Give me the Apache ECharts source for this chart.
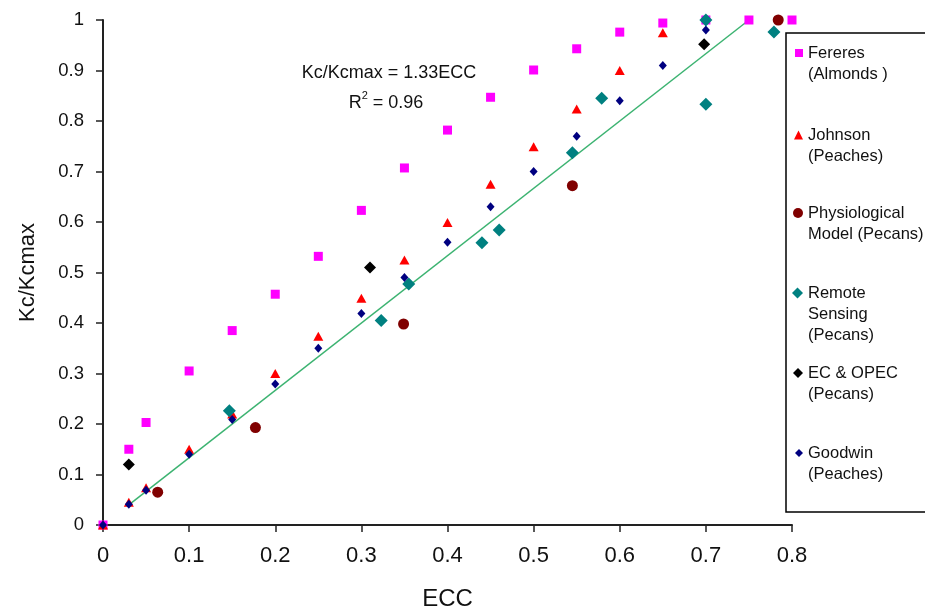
<!DOCTYPE html>
<html><head><meta charset="utf-8">
<script src="https://cdn.jsdelivr.net/npm/echarts@6/dist/echarts.min.js"></script>
<style>html,body{margin:0;padding:0;background:#fff}#c{width:925px;height:613px}</style>
</head><body><div id="c"></div>
<script>
// ---- data ----
const fereresX = [0, 0.03, 0.05, 0.10, 0.15, 0.20, 0.25, 0.30, 0.35, 0.40, 0.45, 0.50, 0.55, 0.60, 0.65, 0.70, 0.75, 0.80];
const fereresY = [0, 0.150, 0.203, 0.305, 0.385, 0.457, 0.532, 0.623, 0.707, 0.782, 0.847, 0.901, 0.943, 0.976, 0.994, 1.0, 1.0, 1.0];
const johnsonX = [0, 0.03, 0.05, 0.10, 0.15, 0.20, 0.25, 0.30, 0.35, 0.40, 0.45, 0.50, 0.55, 0.60, 0.65];
const johnsonY = [0, 0.045, 0.074, 0.150, 0.220, 0.300, 0.374, 0.449, 0.525, 0.599, 0.675, 0.749, 0.824, 0.900, 0.975];
const physioX = [0.0635, 0.177, 0.349, 0.545, 0.784];
const physioY = [0.065, 0.193, 0.398, 0.672, 1.0];
const remoteX = [0.1467, 0.323, 0.355, 0.440, 0.460, 0.545, 0.579, 0.700, 0.700, 0.779];
const remoteY = [0.226, 0.405, 0.477, 0.559, 0.584, 0.737, 0.845, 1.0, 0.833, 0.976];
const ecX = [0.030, 0.310, 0.698];
const ecY = [0.120, 0.510, 0.952];
const goodwinX = [0, 0.03, 0.05, 0.10, 0.15, 0.20, 0.25, 0.30, 0.35, 0.40, 0.45, 0.50, 0.55, 0.60, 0.65, 0.70];
const goodwinY = [0, 0.041, 0.069, 0.140, 0.209, 0.279, 0.350, 0.419, 0.490, 0.560, 0.630, 0.700, 0.770, 0.840, 0.910, 0.980];
const trendX = [0.03, 0.75];
const trendY = [0.04, 1.0];
const legendNames = ['Fereres\n(Almonds )', 'Johnson\n(Peaches)', 'Physiological\nModel (Pecans)', 'Remote\nSensing\n(Pecans)', 'EC & OPEC\n(Pecans)', 'Goodwin\n(Peaches)'];
const xTicks = [0, 0.1, 0.2, 0.3, 0.4, 0.5, 0.6, 0.7, 0.8];
const yTicks = [0, 0.1, 0.2, 0.3, 0.4, 0.5, 0.6, 0.7, 0.8, 0.9, 1];
const equationText = 'Kc/Kcmax = 1.33ECC';
const r2Text = '0.96';

// ---- build ----
const zip = (xs, ys) => xs.map((x, i) => [x, ys[i]]);
const FONT = '"Liberation Sans", Arial, sans-serif';
const chart = echarts.init(document.getElementById('c'), null, {renderer: 'canvas'});

const seriesDefs = [
  {name: legendNames[0], data: zip(fereresX, fereresY), symbol: 'rect', size: 9, color: '#ff00ff'},
  {name: legendNames[1], data: zip(johnsonX, johnsonY), symbol: 'triangle', size: [10, 9], color: '#ff0000'},
  {name: legendNames[2], data: zip(physioX, physioY), symbol: 'circle', size: 11, color: '#800000'},
  {name: legendNames[3], data: zip(remoteX, remoteY), symbol: 'diamond', size: 13, color: '#008080'},
  {name: legendNames[4], data: zip(ecX, ecY), symbol: 'diamond', size: 12, color: '#000000'},
  {name: legendNames[5], data: zip(goodwinX, goodwinY), symbol: 'diamond', size: [8, 9], color: '#000080'}
];

const series = [{
  name: 'trend', type: 'line', data: zip(trendX, trendY), symbol: 'none',
  lineStyle: {color: '#3cb371', width: 1.5}, z: 1, silent: true
}].concat(seriesDefs.map((s, i) => ({
  name: s.name, type: 'scatter', data: s.data, symbol: s.symbol, symbolSize: s.size,
  itemStyle: {color: s.color, opacity: 1}, z: 2 + i
})));

const L = 21;
const legendIconY = [53, 135, 213, 293, 373, 453];
const legendIconSize = [8, 9, 10, 11, 10, 8];
const legends = legendNames.map((n, i) => {
  const lines = n.split('\n').length;
  const blank = lines - 1;           // prepend blank lines so the icon sits on the first real line
  const total = lines + blank;
  const H = total * L;
  const w = legendIconSize[i];
  return {
    data: [n], orient: 'vertical', left: 803 - w, top: legendIconY[i] - H / 2,
    padding: 0, itemWidth: w, itemHeight: w, selectedMode: false,
    formatter: name => ' \n'.repeat(blank) + name,
    textStyle: {fontFamily: FONT, fontSize: 16.5, color: '#111', lineHeight: L}
  };
});

const option = {
  animation: false,
  backgroundColor: '#fff',
  grid: {left: 103, right: 133, top: 20, bottom: 88, containLabel: false, outerBoundsMode: 'none'},
  xAxis: {
    type: 'value', min: 0, max: 0.8, interval: 0.1,
    name: 'ECC', nameLocation: 'middle', nameGap: 62,
    nameTextStyle: {fontFamily: FONT, fontSize: 24, color: '#111'},
    axisLine: {show: true, lineStyle: {color: '#222', width: 2}},
    axisTick: {show: true, inside: false, length: 7, lineStyle: {color: '#222', width: 1.5}},
    axisLabel: {fontFamily: FONT, fontSize: 22, color: '#111', margin: 20,
      formatter: v => { const t = xTicks.find(k => Math.abs(k - v) < 1e-9); return t === undefined ? '' : String(t); }},
    splitLine: {show: false}
  },
  yAxis: {
    type: 'value', min: 0, max: 1, interval: 0.1,
    name: 'Kc/Kcmax', nameLocation: 'middle', nameGap: 64,
    nameTextStyle: {fontFamily: FONT, fontSize: 22, color: '#111'},
    axisLine: {show: true, lineStyle: {color: '#222', width: 2}},
    axisTick: {show: true, inside: false, length: 7, lineStyle: {color: '#222', width: 1.5}},
    axisLabel: {fontFamily: FONT, fontSize: 18.5, color: '#111', margin: 19,
      formatter: v => { const t = yTicks.find(k => Math.abs(k - v) < 1e-9); return t === undefined ? '' : String(t); }},
    splitLine: {show: false}
  },
  legend: legends,
  graphic: [
    {type: 'rect', shape: {x: 786, y: 33, width: 160, height: 479}, style: {fill: 'none', stroke: '#000', lineWidth: 1.5}, z: 0, silent: true},
    {type: 'text', x: 389, y: 73, style: {text: equationText, fontFamily: FONT, fontSize: 18, fill: '#111', align: 'center', verticalAlign: 'middle'}, silent: true},
    {type: 'text', x: 386, y: 101, style: {text: '{r|R}{s|2}{r| = ' + r2Text + '}', align: 'center', verticalAlign: 'middle',
      rich: {r: {fontFamily: FONT, fontSize: 18, fill: '#111', lineHeight: 22, verticalAlign: 'bottom'},
             s: {fontFamily: FONT, fontSize: 11, fill: '#111', lineHeight: 22, verticalAlign: 'top'}}}, silent: true}
  ],
  series: series
};
chart.setOption(option);
</script>
</body></html>
